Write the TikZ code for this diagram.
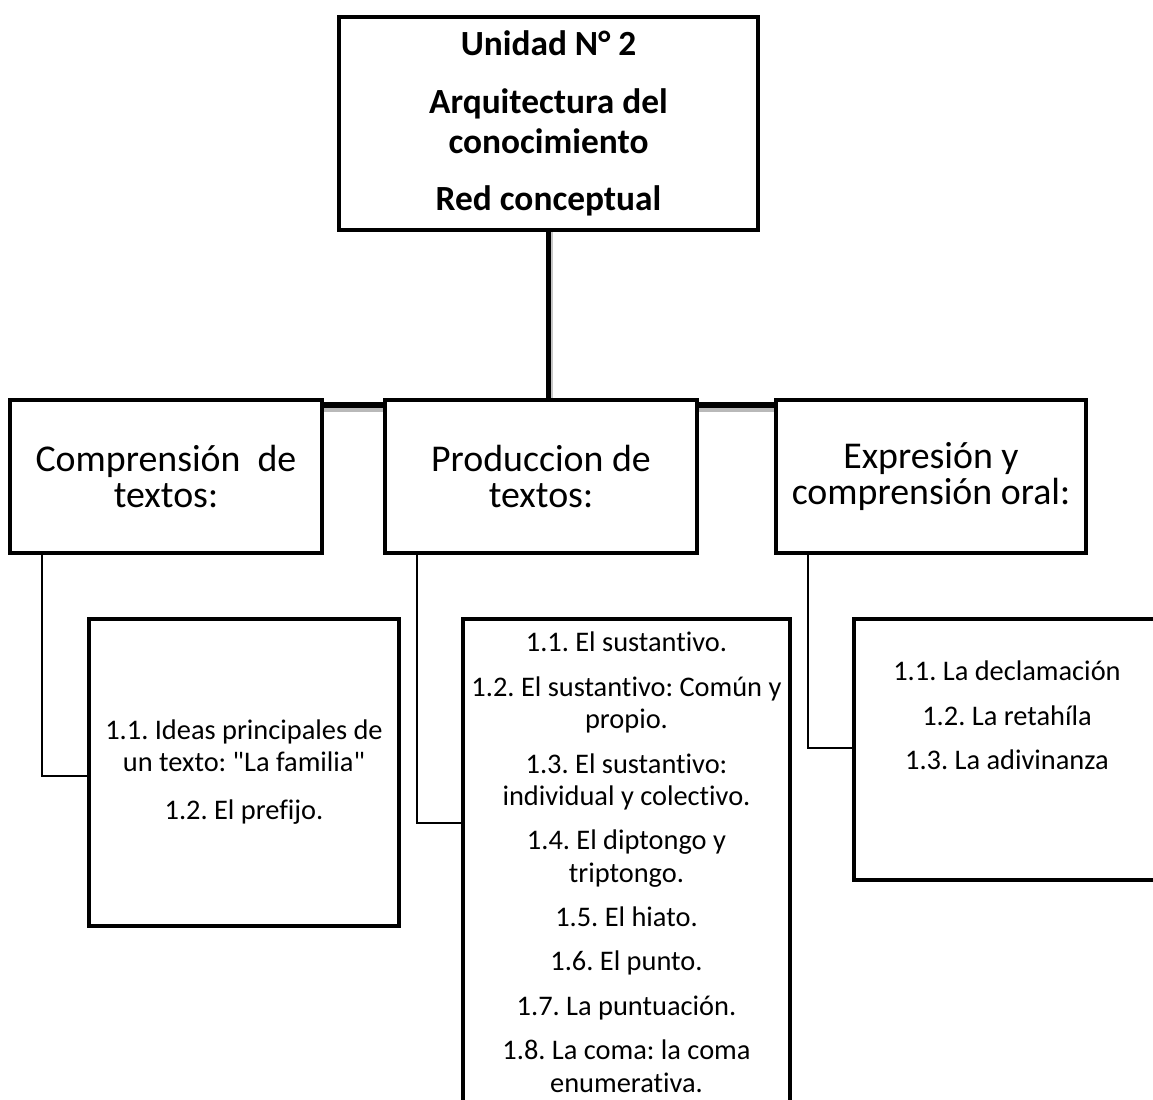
\documentclass[tikz,border=0pt]{standalone}
\usepackage{fontspec}
\setmainfont{Carlito}[Ligatures={TeXOff,NoCommon}]
\usetikzlibrary{backgrounds}
\tikzset{
  box/.style={draw=black, line width=4bp, fill=white, inner sep=0pt, align=center},
  titletext/.style={font=\frenchspacing\bfseries\fontsize{35.5}{40}\selectfont},
  headtext/.style={font=\frenchspacing\fontsize{38}{37}\selectfont},
  subtext/.style={font=\frenchspacing\fontsize{28.5}{32.5}\selectfont, align=center, inner sep=0pt},
  thick link/.style={line width=5bp, draw=black},
  thin link/.style={line width=1.6bp, draw=black},
}
\begin{document}
\begin{tikzpicture}[x=1bp, y=-1bp]
\clip (0,0) rectangle (1153,1100);
% top box
\node[box, titletext, minimum width=419bp, minimum height=213bp] (top) at (548.5,123.5)
  {Unidad N° 2\\[18bp] Arquitectura del\\ conocimiento\\[17bp] Red conceptual};
% level two
\node[box, headtext, minimum width=312bp, minimum height=153bp] (b1) at (166,476.5)
  {Comprensión\ \ de\\ textos:};
\node[box, headtext, minimum width=312bp, minimum height=153bp] (b2) at (541,476.5)
  {Produccion de\\ textos:};
\node[box, headtext, minimum width=310bp, minimum height=153bp] (b3) at (931,476.5)
  {Expresión y\\ comprensión\ oral:};
% level three
\node[box, subtext, minimum width=309bp, minimum height=307bp] (s1) at (244,772)
  {1.1. Ideas principales de\\ un texto: "La familia"\\[15bp] 1.2. El prefijo.};
\node[box, minimum width=327bp, minimum height=500bp] (s2) at (626.5,869) {};
\node[subtext, anchor=north] (s2t) at ([yshift=-15bp]s2.north)
  {1.1. El sustantivo.\\[12bp]
   1.2. El sustantivo: Común y\\ propio.\\[12bp]
   1.3. El sustantivo:\\ individual\ y colectivo.\\[12bp]
   1.4. El diptongo y\\ triptongo.\\[12bp]
   1.5. El hiato.\\[12bp]
   1.6. El punto.\\[12bp]
   1.7. La puntuación.\\[12bp]
   1.8. La coma: la coma\\ enumerativa.};
\node[box, minimum width=306bp, minimum height=261bp] (s3) at (1007,749.5) {};
\node[subtext, anchor=north] (s3t) at ([yshift=-44bp]s3.north)
  {1.1. La declamación\\[12bp] 1.2. La retahíla\\[12bp] 1.3. La adivinanza};
% connectors
\begin{scope}[on background layer]
  \draw[draw=gray!55, line width=6bp] ([yshift=-11bp]b1.north east) -- ([yshift=-11bp]b3.north west);
  \draw[thick link, line width=5.5bp] ([yshift=-7bp]b1.north east) -- ([yshift=-7bp]b3.north west);
  \draw[draw=gray!45, line width=4bp] ([xshift=2.5bp]top.south) -- ([xshift=2.5bp]top.south |- b2.north);
  \draw[thick link] (top.south) -- (top.south |- b2.north);
  \draw[thin link] (42,553) |- (s1.west |- 0,776);
  \draw[thin link] (417,553) |- (s2.west |- 0,823);
  \draw[thin link] (808,553) |- (s3.west |- 0,748);
\end{scope}
\end{tikzpicture}
\end{document}
